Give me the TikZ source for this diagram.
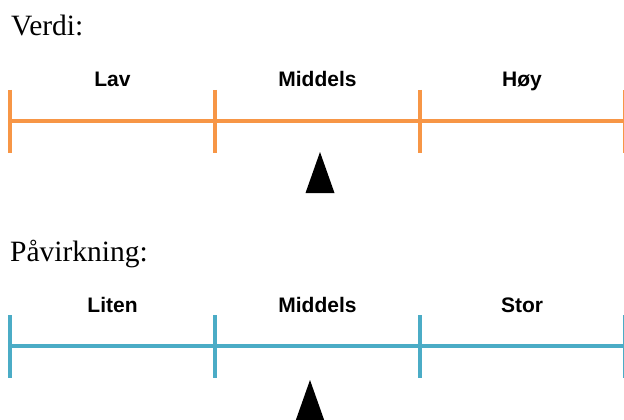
\documentclass[tikz,border=0pt]{standalone}
\usepackage{fontspec}
\setmainfont{Liberation Serif}
\newfontfamily\arialbf{Liberation Sans}[BoldFont={Liberation Sans Bold}]
\definecolor{scaleorange}{HTML}{F79646}
\definecolor{scaleteal}{HTML}{4BACC6}
\begin{document}
\begin{tikzpicture}[x=1pt,y=-1pt,
  title/.style={anchor=base west,inner sep=0pt,font=\fontsize{29.5}{33}\selectfont},
  catlabel/.style={anchor=base,inner sep=0pt,font=\arialbf\bfseries\fontsize{21}{24}\selectfont},
  scaleline/.style={line width=4pt},
  marker/.style={fill=black}]
\useasboundingbox (0,0) rectangle (624,420);
% Verdi
\node[title] (t1) at (11,36) {Verdi:};
\node[catlabel] (l1) at (112.5,86) {Lav};
\node[catlabel] (l2) at (317.5,86) {Middels};
\node[catlabel] (l3) at (522,86) {Høy};
\draw[scaleline,scaleorange] (10,121) -- (624,121);
\foreach \x in {10,215,420,625}
  \draw[scaleline,scaleorange] (\x,90) -- (\x,153);
\fill[marker] (320,152) -- (334.5,193) -- (305.5,193) -- cycle;
% Påvirkning
\node[title] (t2) at (10,261) {Påvirkning:};
\node[catlabel] (m1) at (112.5,312) {Liten};
\node[catlabel] (m2) at (317.5,312) {Middels};
\node[catlabel] (m3) at (522,312) {Stor};
\draw[scaleline,scaleteal] (10,346) -- (624,346);
\foreach \x in {10,215,420,625}
  \draw[scaleline,scaleteal] (\x,315) -- (\x,378);
\fill[marker] (310,380) -- (324.5,421) -- (295.5,421) -- cycle;
\end{tikzpicture}
\end{document}
